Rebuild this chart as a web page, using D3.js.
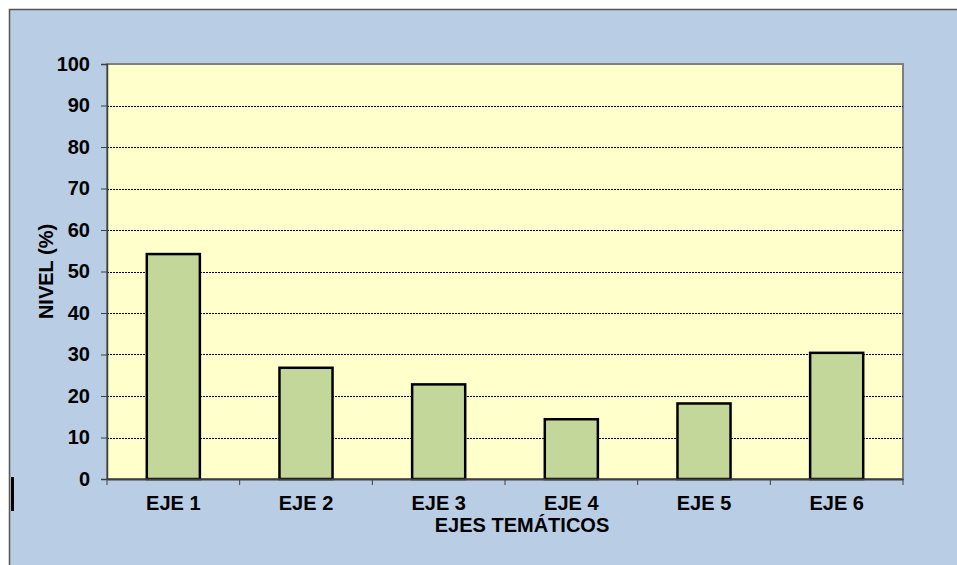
<!DOCTYPE html>
<html>
<head>
<meta charset="utf-8">
<script src="https://cdn.jsdelivr.net/npm/d3@7"></script>
<style>
  body { margin: 0; background: #fff; }
  text { font-family: "Liberation Sans", Arial, sans-serif; font-weight: bold; fill: #000; }
</style>
</head>
<body>
<div id="chart"></div>
<script>
var categories = ["EJE 1", "EJE 2", "EJE 3", "EJE 4", "EJE 5", "EJE 6"];
var values = [54.2, 26.8, 22.8, 14.4, 18.2, 30.4];
var yTicks = [0, 10, 20, 30, 40, 50, 60, 70, 80, 90, 100];

var width = 957, height = 565;
var plot = { left: 107, top: 64, right: 903, bottom: 479 };

var svg = d3.select("#chart")
  .append("svg")
  .attr("width", width)
  .attr("height", height);

// chart area background
svg.append("rect")
  .attr("x", 9.5).attr("y", 9.5)
  .attr("width", width).attr("height", height)
  .style("fill", "#B9CDE5")
  .style("stroke", "#555")
  .style("stroke-width", 1.5);

var x = d3.scaleBand()
  .domain(categories)
  .range([plot.left, plot.right])
  .paddingInner(0.6)
  .paddingOuter(0.3);

var xBounds = d3.scaleLinear()
  .domain([0, categories.length])
  .range([plot.left, plot.right]);

var y = d3.scaleLinear()
  .domain([0, 100])
  .range([plot.bottom, plot.top]);

// plot area
svg.append("rect")
  .attr("x", plot.left).attr("y", plot.top)
  .attr("width", plot.right - plot.left)
  .attr("height", plot.bottom - plot.top)
  .style("fill", "#FFFFCC")
  .style("stroke", "#808080")
  .style("stroke-width", 2);

// gridlines
svg.append("g")
  .selectAll("line")
  .data(yTicks.filter(function(d) { return d > 0 && d < 100; }))
  .enter().append("line")
  .attr("x1", plot.left).attr("x2", plot.right)
  .attr("y1", function(d) { return Math.round(y(d)) + 0.5; })
  .attr("y2", function(d) { return Math.round(y(d)) + 0.5; })
  .style("stroke", "#000")
  .style("stroke-width", 1)
  .style("stroke-dasharray", "2,1");

// bars
svg.append("g")
  .selectAll("rect")
  .data(values)
  .enter().append("rect")
  .attr("x", function(d, i) { return x(categories[i]); })
  .attr("y", function(d) { return y(d); })
  .attr("width", x.bandwidth())
  .attr("height", function(d) { return plot.bottom - y(d); })
  .style("fill", "#C4D79B")
  .style("stroke", "#000")
  .style("stroke-width", 2.5);

// y axis
var yAxis = svg.append("g")
  .attr("transform", "translate(" + plot.left + ",0)")
  .call(d3.axisLeft(y).tickValues(yTicks).tickSize(6).tickPadding(11));
yAxis.select(".domain").style("stroke", "#404040").style("stroke-width", 1.5);
yAxis.selectAll(".tick line").style("stroke", "#404040");
yAxis.selectAll("text").style("font-size", "20px").style("font-family", null);

// x axis
var xAxis = svg.append("g")
  .attr("transform", "translate(0," + plot.bottom + ")")
  .call(d3.axisBottom(x).tickSize(0).tickPadding(17));
xAxis.select(".domain").style("stroke", "#404040").style("stroke-width", 2);
xAxis.selectAll("text").style("font-size", "20px").style("font-family", null);

xAxis.selectAll(".bound")
  .data(d3.range(categories.length + 1))
  .enter().append("line")
  .attr("x1", function(d) { return xBounds(d); })
  .attr("x2", function(d) { return xBounds(d); })
  .attr("y1", 0).attr("y2", 6)
  .style("stroke", "#404040");

// axis titles
svg.append("text")
  .attr("transform", "translate(53," + ((plot.top + plot.bottom) / 2) + ") rotate(-90)")
  .attr("text-anchor", "middle")
  .style("font-size", "20px")
  .text("NIVEL (%)");

svg.append("text")
  .attr("x", 522)
  .attr("y", 532)
  .attr("text-anchor", "middle")
  .style("font-size", "20px")
  .text("EJES TEMÁTICOS");

// stray marker at left edge
svg.append("rect")
  .attr("x", 11).attr("y", 477)
  .attr("width", 3).attr("height", 34)
  .style("fill", "#000");
</script>
</body>
</html>
